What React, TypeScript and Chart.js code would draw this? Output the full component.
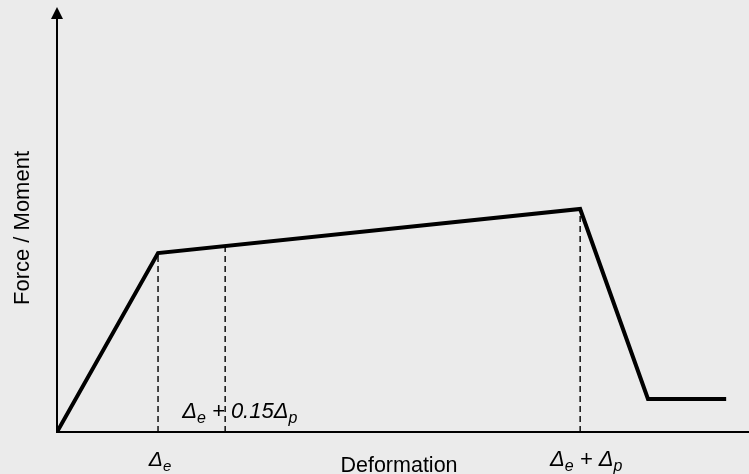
import React, { useEffect, useRef } from "react";
import { Chart, registerables } from "chart.js";

Chart.register(...registerables);

// Backbone curve (deformation, force) in normalized units (0-100 of each axis)
const deformation = [0, 14.6, 75.6, 85.4, 96.7];
const force = [0, 42.2, 52.6, 7.8, 7.8];

// Key deformation marks (dashed verticals)
const keyDeformations = [14.6, 24.3, 75.6];
// Tick labels: [main, subscript] pairs
const tickLabelBelow1 = [["Δ", "e"]];
const tickLabelAbove = [["Δ", "e"], [" + 0.15Δ", "p"]];
const tickLabelBelow2 = [["Δ", "e"], [" + Δ", "p"]];

const xTitle = "Deformation";
const yTitle = "Force / Moment";

const BG = "#ebebeb";
const FONT = '"Liberation Sans", Arial, sans-serif';

function interpForce(x: number): number {
  for (let i = 0; i < deformation.length - 1; i++) {
    const x0 = deformation[i], x1 = deformation[i + 1];
    if (x >= x0 && x <= x1) {
      const t = (x - x0) / (x1 - x0);
      return force[i] + t * (force[i + 1] - force[i]);
    }
  }
  return 0;
}

function drawComposite(ctx: CanvasRenderingContext2D, parts: string[][], cx: number, baseline: number, size: number, subSize: number, align: "center" | "left") {
  const main = `italic ${size}px ${FONT}`;
  const sub = `italic ${subSize}px ${FONT}`;
  let total = 0;
  for (const [m, s] of parts) {
    ctx.font = main; total += ctx.measureText(m).width;
    ctx.font = sub; total += ctx.measureText(s).width;
  }
  let x = align === "center" ? cx - total / 2 : cx;
  ctx.textAlign = "left";
  ctx.textBaseline = "alphabetic";
  for (const [m, s] of parts) {
    ctx.font = main; ctx.fillText(m, x, baseline); x += ctx.measureText(m).width;
    ctx.font = sub; ctx.fillText(s, x, baseline + 5); x += ctx.measureText(s).width;
  }
}

const axesPlugin = {
  id: "axesPlugin",
  beforeDatasetsDraw(chart: any) {
    const { ctx, chartArea } = chart;
    const { left, right, top, bottom } = chartArea;
    ctx.save();
    ctx.strokeStyle = "#000";
    ctx.fillStyle = "#000";
    ctx.lineWidth = 2;
    ctx.beginPath();
    ctx.moveTo(left, bottom);
    ctx.lineTo(right + 10, bottom);
    ctx.moveTo(left, bottom + 1);
    ctx.lineTo(left, top + 10);
    ctx.stroke();
    ctx.beginPath();
    ctx.moveTo(left, top - 1);
    ctx.lineTo(left - 6, top + 11);
    ctx.lineTo(left + 6, top + 11);
    ctx.closePath();
    ctx.fill();
    ctx.restore();
  },
  afterDraw(chart: any) {
    const { ctx, chartArea, scales } = chart;
    const xs = scales.x;
    ctx.save();
    ctx.fillStyle = "#000";
    // axis titles
    ctx.font = `21.5px ${FONT}`;
    ctx.textAlign = "center";
    ctx.textBaseline = "alphabetic";
    ctx.fillText(xTitle, 399, chartArea.bottom + 40);
    ctx.font = `22px ${FONT}`;
    ctx.save();
    ctx.translate(29, 228);
    ctx.rotate(-Math.PI / 2);
    ctx.fillText(yTitle, 0, 0);
    ctx.restore();
    // tick labels
    const p0 = xs.getPixelForValue(keyDeformations[0]);
    const p1 = xs.getPixelForValue(keyDeformations[1]);
    const p2 = xs.getPixelForValue(keyDeformations[2]);
    drawComposite(ctx, tickLabelBelow1, p0 + 2, chartArea.bottom + 34, 21, 15, "center");
    drawComposite(ctx, tickLabelAbove, p1 - 43, chartArea.bottom - 14, 22, 16, "left");
    drawComposite(ctx, tickLabelBelow2, p2 + 6, chartArea.bottom + 34, 22, 16, "center");
    ctx.restore();
  },
};

export default function App() {
  const ref = useRef<HTMLCanvasElement | null>(null);
  useEffect(() => {
    if (!ref.current) return;
    const curve = deformation.map((x, i) => ({ x, y: force[i] }));
    const dashed = keyDeformations.map((x) => ({
      data: [{ x, y: 0 }, { x, y: interpForce(x) }],
      borderColor: "#000",
      borderWidth: 1.4,
      borderDash: [6, 4],
      pointRadius: 0,
      fill: false,
    }));
    const chart = new Chart(ref.current, {
      type: "line",
      data: {
        datasets: [
          {
            data: curve,
            borderColor: "#000",
            borderWidth: 4,
            borderJoinStyle: "miter",
            pointRadius: 0,
            tension: 0,
            fill: false,
            order: 0,
          } as any,
          ...(dashed as any[]),
        ],
      },
      options: {
        responsive: false,
        animation: false,
        events: [],
        layout: { padding: { left: 57, right: 0, top: 8, bottom: 42 } },
        plugins: { legend: { display: false }, tooltip: { enabled: false } },
        scales: {
          x: { type: "linear", min: 0, max: 100, display: false },
          y: { type: "linear", min: 0, max: 100, display: false },
        },
      },
      plugins: [axesPlugin],
    });
    return () => chart.destroy();
  }, []);
  return (
    <div style={{ position: "fixed", left: 0, top: 0, width: 749, height: 474, background: BG }}>
      <canvas ref={ref} width={749} height={474} style={{ display: "block" }} />
    </div>
  );
}
